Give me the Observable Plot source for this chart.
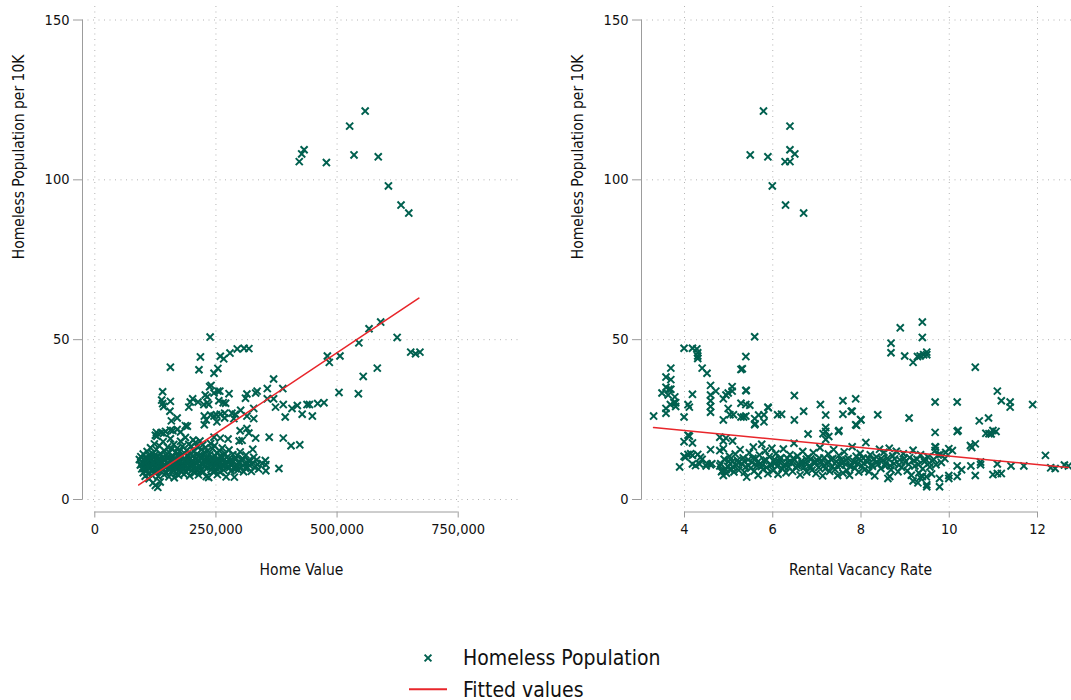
<!DOCTYPE html>
<html><head><meta charset="utf-8">
<script src="https://cdn.jsdelivr.net/npm/d3@7"></script>
<script src="https://cdn.jsdelivr.net/npm/@observablehq/plot@0.6"></script>
<style>
html,body{margin:0;padding:0;background:#fff;overflow:hidden;}
#wrap{position:relative;width:1071px;height:700px;overflow:hidden;background:#fff;}
#left{position:absolute;left:0;top:0;width:540px;}
#right{position:absolute;left:540px;top:0;width:540px;}
#left svg,#right svg{max-width:none !important;}
#legend{position:absolute;left:0;top:600px;}
</style></head><body><div id="wrap"><div id="left"></div><div id="right"></div><div id="legend"></div></div>
<script>
// ---------- data ----------
const yTitle = "Homeless Population per 10K";
const yTicks = [0, 50, 100, 150];
const yTickLabels = ["0", "50", "100", "150"];

// Left panel: home value (thousands of $), homeless per 10K
const homeValueTicks = [0, 250, 500, 750];
const homeValueTickLabels = ["0", "250,000", "500,000", "750,000"];
const homeValueTitle = "Home Value";
const homeValueOutliers = [[422,105.7],[427,108.1],[432,109.4],[478,105.4],[526,116.8],[535,107.8],[558,121.5],[585,107.2],[606,98.1],[632,92.1],[648,89.6]];
const homeValueMid = [[238,50.8],[218,44.6],[156,41.4],[215,40.6],[246,39.5],[254,41.0],[259,44.8],[266,44.0],[279,45.8],[294,47.1],[308,47.3],[318,47.2],
[590,55.5],[566,53.4],[624,50.7],[545,49.0],[480,44.9],[484,42.9],[506,44.9],[652,46.1],[662,45.6],[671,46.1],[583,41.1],[554,38.5],[504,33.5],[544,33.1],[473,30.3],
[369,37.7],[388,34.7],[356,34.7],[332,33.3],[314,33.0],[311,31.7],[356,31.5],[369,31.5],
[373,28.9],[389,29.7],[407,28.5],[418,29.4],[438,29.7],[443,29.7],[460,30.0],[393,25.8],[428,26.7],[449,26.1],
[328,28.5],[314,26.1],[328,25.3],[301,27.9],[290,26.7],[287,25.3],[314,22.2],[332,19.2],[360,19.5],[389,19.2],[405,16.8],[423,17.1],[326,15.7],[380,9.7],[353,10.9],[353,9.0],[298,18.3],[275,18.9],[259,19.2],[246,19.5],
[140,33.7],[138,31.1],[156,30.7],[142,29.1],[140,30.0],[155,27.6],[158,24.6],[170,25.5],[161,21.6],[177,21.1],[191,22.9],[194,28.9],[197,30.5],[202,31.5],[213,30.5],[225,29.7],[232,30.3],[235,29.7],[237,35.3],[240,35.7],[246,33.3],[254,33.9],[258,33.9],[228,32.7],[232,32.1],[256,30.9],[265,30.3],[270,30.1],[277,33.1],[226,26.1],[230,24.9],[239,26.4],[246,26.1],[251,26.5],[259,26.7],[268,27.0],[268,25.5],[283,27.0],[226,23.4],[252,24.3],[127,21.0],[125,20.1],[142,20.7],[156,21.7],[170,21.9],[187,23.1],[300,21.5],[318,20.8],[304,18.5],[335,33.9]];
const homeValueDense = [[92,12.5],[94,10.8],[95,13.4],[97,9.6],[98,11.7],[100,8.4],[100,14.2],[102,12.1],[103,10.2],[104,7.3],
[105,13.0],[106,11.2],[107,9.1],[108,15.0],[109,12.4],[110,8.0],[110,10.6],[111,13.8],[112,6.5],[113,11.5],
[114,9.8],[115,16.2],[116,12.9],[117,10.9],[118,7.6],[119,14.4],[120,11.8],[120,5.2],[121,9.4],[122,13.2],
[123,17.4],[124,10.3],[125,12.6],[125,4.4],[126,8.6],[127,15.6],[128,11.0],[128,19.8],[129,13.6],[130,9.9],
[130,3.8],[131,7.2],[132,12.2],[133,16.8],[134,10.5],[135,14.3],[135,5.5],[136,8.9],[137,20.9],[138,11.7],
[139,13.0],[140,9.3],[141,18.1],[142,12.5],[143,7.8],[144,15.2],[145,10.7],[146,21.3],[147,13.9],[148,8.4],
[149,11.4],[150,16.4],[151,9.6],[152,12.8],[153,7.1],[154,14.7],[155,10.2],[156,19.0],[157,12.0],[158,8.8],
[159,15.8],[160,11.1],[161,13.4],[162,9.0],[163,17.2],[164,6.8],[165,12.6],[166,10.4],[167,14.9],[168,8.2],
[169,11.9],[170,16.0],[171,9.7],[172,13.3],[173,7.6],[174,12.1],[175,15.1],[176,10.0],[177,18.2],[178,8.9],
[179,13.7],[180,11.3],[181,16.6],[182,9.4],[183,12.7],[184,7.9],[185,14.5],[186,10.8],[187,19.4],[188,12.3],
[189,8.6],[190,15.4],[191,11.0],[192,13.9],[193,9.8],[194,17.3],[195,12.4],[196,7.4],[197,14.2],[198,10.5],
[199,16.7],[200,11.8],[201,9.2],[202,13.5],[203,18.6],[204,10.9],[205,15.0],[206,8.3],[207,12.6],[208,17.8],
[209,11.5],[210,14.1],[211,9.5],[212,16.4],[213,12.2],[214,7.7],[215,13.8],[216,10.7],[217,18.3],[218,12.9],
[219,9.1],[220,15.6],[221,11.4],[222,13.5],[223,17.1],[224,8.6],[225,12.0],[226,14.8],[227,10.2],[228,16.2],
[229,11.7],[230,7.2],[231,13.1],[232,9.9],[233,15.3],[234,12.4],[235,6.9],[236,10.8],[237,14.0],[238,12.0],
[239,17.5],[240,9.4],[241,13.0],[242,11.2],[243,15.9],[244,8.7],[245,12.5],[246,10.1],[247,16.8],[248,13.6],
[249,9.0],[250,11.9],[252,14.6],[253,7.8],[254,12.8],[256,10.4],[257,15.2],[258,11.6],[259,8.5],[260,13.7],
[262,10.9],[263,16.1],[265,12.3],[266,9.2],[268,14.4],[270,11.0],[271,7.1],[273,13.2],[275,10.3],[277,15.5],
[279,12.1],[281,8.9],[283,11.4],[285,14.0],[287,9.8],[288,7.0],[290,12.6],[292,10.7],[294,13.8],[296,9.3],
[298,11.9],[300,14.9],[302,10.1],[305,12.8],[307,8.7],[310,11.3],[312,13.9],[315,9.9],[318,12.2],[320,10.6],[323,8.8],[326,11.5],[330,10.0],[334,12.4],[338,9.5],
[96,11.0],[101,9.7],[104,12.9],[107,11.8],[111,10.3],[114,12.7],[117,8.8],[121,11.3],[124,13.9],[127,9.5],[131,11.6],[134,12.8],[137,9.8],[141,10.6],[144,12.1],[147,10.1],[150,13.3],[153,11.0],[157,9.9],[160,12.4],
[163,10.6],[166,12.9],[170,10.5],[173,11.7],[176,13.2],[180,9.6],[183,10.9],[186,12.2],[190,9.9],[193,11.6],[196,12.9],[200,10.3],[203,12.0],[207,9.6],[210,11.1],[214,12.4],[217,10.1],[221,12.9],[224,10.9],[228,12.3],
[232,11.2],[236,12.7],[240,10.9],[244,11.9],[248,10.6],[253,12.1],[257,9.8],[262,12.9],[267,10.6],[272,11.9],[278,10.0],[284,12.3],[291,9.6],[297,11.4],[304,12.1],[311,9.8],[319,11.7],[328,13.2],[336,11.0],[345,11.3],[352,12.2]];
const homeValueFit = [[90.8,4.55],[668.8,63.0]];

// Right panel: rental vacancy rate (%), homeless per 10K
const vacancyTicks = [4, 6, 8, 10, 12];
const vacancyTickLabels = ["4", "6", "8", "10", "12"];
const vacancyTitle = "Rental Vacancy Rate";
const vacancyOutliers = [[5.79,121.5],[6.39,116.8],[5.49,107.8],[5.89,107.2],[6.39,109.4],[6.50,108.1],[6.28,105.7],[6.39,105.7],[5.99,98.1],[6.29,92.1],[6.70,89.6]];
const vacancyMid = [[3.30,26.1],[3.49,33.3],[3.58,35.1],[3.65,34.5],[3.69,34.5],[3.63,32.7],[3.58,28.5],[3.58,27.0],[3.58,38.3],[3.69,41.1],[3.69,37.5],
[3.68,29.7],[3.76,30.3],[3.80,29.1],[3.80,30.3],[3.78,32.1],[3.99,47.3],[3.99,25.8],[4.08,29.7],[4.11,28.9],[4.18,32.9],
[4.18,47.3],[4.28,47.1],[4.30,45.9],[4.30,44.9],[4.30,44.1],[4.40,41.1],[4.51,39.5],
[4.59,35.7],[4.59,32.7],[4.59,30.9],[4.59,29.1],[4.59,27.3],[4.71,33.9],
[4.88,31.5],[4.94,32.7],[4.99,33.3],[5.08,35.3],[5.08,33.9],[4.88,24.9],[4.99,28.5],[5.03,26.5],[5.11,26.5],
[5.28,40.7],[5.39,44.7],[5.39,34.1],[5.28,30.1],[5.39,29.7],[5.48,29.5],[5.28,25.8],[5.34,25.8],[5.39,26.1],
[5.59,50.9],[5.59,25.3],[5.59,23.4],[5.68,26.4],[5.80,26.5],[5.89,28.9],[5.80,24.3],[6.11,26.5],[6.20,26.7],
[6.49,32.5],[6.49,24.9],[6.70,27.6],[6.80,20.5],[7.08,29.7],[7.20,26.4],[7.20,22.5],[7.20,21.3],[7.49,21.3],
[7.59,30.9],[7.59,26.7],[7.78,27.6],[7.88,31.5],[7.88,23.4],[8.00,24.9],[8.38,26.5],
[8.68,48.9],[8.68,45.9],[8.89,53.7],[8.99,44.9],[9.18,42.9],[9.28,44.7],[9.34,44.9],[9.42,45.3],[9.49,45.3],[9.49,46.1],[9.39,50.7],[9.39,55.5],
[9.09,25.5],[9.68,30.5],[9.68,21.0],[10.18,30.5],[10.18,21.3],[10.59,41.4],[10.68,24.6],[10.89,25.5],[11.09,33.9],[11.18,30.9],[11.38,30.5],[11.38,28.9],[11.89,29.7],
[10.83,20.7],[10.95,20.5],[11.06,21.3],[10.48,16.9],[10.59,17.4],[10.51,16.3],[12.18,13.8],[12.30,9.9],[12.40,9.7],[12.61,10.8],[12.70,10.5],
[11.69,10.5],[11.40,10.5],[11.09,11.1],[10.99,7.8],[11.09,8.1],[11.18,8.1],[10.71,11.7],[10.71,10.9],[10.59,7.5],[10.49,10.5],
[10.18,10.5],[10.28,9.3],[10.18,7.2],[9.99,7.5],[9.99,6.6],[9.78,6.6],[9.78,4.0],[9.49,4.0],[9.49,4.6],[9.39,7.2],[9.34,6.9],[9.18,5.8],[9.29,5.2],[8.61,6.6],[8.65,7.2],
[9.99,15.9],[10.07,15.3],[9.92,14.7],[9.80,14.1],[9.68,16.5],[9.68,15.3],[9.69,16.4],
[3.99,18.1],[4.08,20.1],[4.18,17.7],[3.99,13.5],[4.08,14.1],[4.18,13.8],[4.30,14.1],[4.18,11.1],[4.34,11.1],[4.40,12.6],[4.49,10.5],[4.59,10.9],[4.59,15.6],[3.89,10.2],[4.11,19.8],
[4.14,14.3],[4.25,10.6],[4.51,11.2],[4.62,11.2],[4.02,13.2],[4.36,13.2],
[4.80,19.5],[4.88,18.3],[4.80,15.3],[4.88,15.9],[4.94,19.2],[5.09,18.3],[4.80,10.5],[4.84,8.7],[4.88,7.5],[4.94,9.3],[5.03,9.3],
[5.31,40.9],[5.40,34.1],[5.60,23.7],[5.90,28.7],[7.14,20.6],[7.27,19.7],[7.50,21.6],[7.80,27.6],[7.90,23.2],[7.99,25.0],[10.20,21.6],[10.90,20.6],[10.99,21.6]];
const vacancyDense = [[4.82,11.2],[4.86,9.0],[4.90,12.6],[4.95,8.2],[4.98,10.4],[5.02,13.5],[5.05,9.6],[5.08,11.8],[5.12,8.6],[5.15,14.2],[5.18,10.8],[5.20,12.3],
[5.23,9.2],[5.26,15.6],[5.30,11.1],[5.33,13.0],[5.36,8.5],[5.39,10.2],[5.41,7.0],[5.44,12.4],[5.47,14.6],[5.50,9.8],[5.53,11.6],[5.56,16.4],[5.58,8.9],
[5.61,12.8],[5.64,10.6],[5.67,7.6],[5.70,13.9],[5.72,11.3],[5.75,17.3],[5.78,9.4],[5.80,12.1],[5.83,15.2],[5.86,10.0],[5.89,8.1],[5.92,13.4],[5.95,11.0],[5.98,16.0],
[6.01,9.1],[6.04,12.5],[6.07,14.3],[6.10,10.4],[6.12,7.9],[6.15,11.8],[6.18,13.1],[6.21,9.7],[6.24,15.8],[6.27,11.0],[6.30,8.4],[6.33,12.9],[6.36,10.2],[6.39,14.0],
[6.42,11.6],[6.45,8.8],[6.48,17.6],[6.50,12.4],[6.53,9.9],[6.56,13.6],[6.59,10.9],[6.62,7.7],[6.65,12.0],[6.68,15.0],[6.71,10.1],[6.74,11.4],[6.77,8.6],[6.80,13.2],
[6.83,10.6],[6.86,12.7],[6.89,9.2],[6.92,14.6],[6.95,11.3],[6.98,8.1],[7.01,12.2],[7.04,10.0],[7.07,16.2],[7.10,11.8],[7.13,7.4],[7.16,13.0],[7.19,9.6],[7.20,18.8],
[7.23,11.1],[7.26,14.2],[7.29,8.8],[7.32,12.5],[7.35,10.3],[7.38,15.6],[7.41,9.4],[7.44,11.9],[7.47,7.5],[7.50,13.8],[7.53,10.7],[7.56,12.3],[7.59,8.3],
[7.62,14.9],[7.65,11.0],[7.68,9.1],[7.71,12.8],[7.74,7.6],[7.77,10.5],[7.80,16.5],[7.83,12.0],[7.86,9.8],[7.89,13.5],[7.92,11.2],[7.95,8.6],[7.98,14.4],
[8.02,10.6],[8.05,12.9],[8.08,9.3],[8.11,17.8],[8.14,11.7],[8.18,8.7],[8.21,14.0],[8.24,10.9],[8.28,12.5],[8.31,7.4],[8.35,13.3],[8.38,11.0],[8.42,15.7],[8.45,9.7],[8.49,12.2],
[8.52,14.8],[8.55,10.5],[8.60,12.9],[8.64,16.0],[8.68,9.3],[8.72,13.6],[8.75,11.2],[8.80,15.1],[8.84,8.7],[8.88,12.4],[8.92,10.1],[8.96,14.3],
[9.00,11.7],[9.05,9.0],[9.10,13.1],[9.14,7.6],[9.18,15.4],[9.22,10.5],[9.27,12.6],[9.31,8.3],[9.35,14.0],[9.40,9.6],[9.44,11.8],[9.48,7.1],[9.52,13.3],[9.56,10.2],[9.60,8.0],
[9.65,12.5],[9.70,10.9],[9.75,13.9],[9.82,11.6],[9.90,12.8],
[5.00,11.9],[5.10,10.1],[5.22,11.5],[5.35,12.0],[5.45,10.6],[5.55,12.9],[5.65,11.6],[5.74,10.3],[5.85,12.3],[5.96,10.7],[6.06,11.4],[6.16,12.6],[6.26,10.2],[6.35,11.6],[6.46,12.8],
[6.55,10.6],[6.66,11.2],[6.76,12.6],[6.86,10.2],[6.96,11.9],[7.06,12.9],[7.16,10.6],[7.26,11.8],[7.36,12.8],[7.46,10.5],[7.56,11.4],[7.66,12.4],[7.76,10.2],[7.86,11.6],[7.96,12.7],
[8.06,11.4],[8.16,12.9],[8.26,10.4],[8.36,11.8],[8.46,12.8],[8.56,11.4],[8.66,10.6],[8.76,12.7],[8.86,10.8],[8.98,12.9],[9.08,11.0],[9.20,12.2],[9.30,10.9],[9.42,12.4],[9.55,11.4]];
const vacancyFit = [[3.30,22.5],[12.70,10.0]];

// ---------- style ----------
const FONT = "'DejaVu Sans Condensed','DejaVu Sans',sans-serif";
const DOT = "#00604f";
const RED = "#e8262b";
const AXIS = "#9c9c9c";
const GRID = "#b4b4b4";

function panel({points, fit, xDomain, xTicks, xTickLabels, insetLeft, insetRight, marginLeft, marginRight, xTitle}) {
  const xfmt = d => xTickLabels[xTicks.indexOf(d)];
  const yfmt = d => yTickLabels[yTicks.indexOf(d)];
  return Plot.plot({
    width: 540, height: 600,
    marginLeft, marginRight, marginTop: 6, marginBottom: 88.5,
    x: {domain: xDomain, insetLeft, insetRight},
    y: {domain: [0, 150], insetTop: 13.5, insetBottom: 12.5},
    style: {fontFamily: FONT, fontSize: "14.5px", color: "#111", background: "transparent", overflow: "visible", maxWidth: "none"},
    marks: [
      Plot.gridX(xTicks, {stroke: GRID, strokeOpacity: 1, strokeDasharray: "1,4.5"}),
      Plot.gridY(yTicks, {stroke: GRID, strokeOpacity: 1, strokeDasharray: "1,4.5"}),
      Plot.ruleX([xDomain[0]], {y1: 0, y2: 150, dx: -insetLeft, stroke: AXIS}),
      Plot.ruleY([0], {x1: xDomain[0], x2: xDomain[1], dy: 12.5, stroke: AXIS}),
      Plot.axisX(xTicks, {tickFormat: xfmt, tickSize: 6, tickPadding: 6, stroke: AXIS, fill: "#111", label: null}),
      Plot.axisY(yTicks, {tickFormat: yfmt, tickSize: 9, tickPadding: 4, stroke: AXIS, fill: "#111", label: null}),
      Plot.dot(points, {x: d => d[0], y: d => d[1], symbol: "times", r: 3.3, stroke: DOT, strokeWidth: 2}),
      Plot.line(fit, {x: d => d[0], y: d => d[1], stroke: RED, strokeWidth: 1.6}),
      Plot.text([xTitle], {text: d => d, frameAnchor: "bottom", dy: 63, fontSize: 15.5, fill: "#111"}),
      Plot.text([yTitle], {text: d => d, frameAnchor: "left", dx: -63, rotate: -90, fontSize: 15.5, fill: "#111"})
    ]
  });
}

document.getElementById("left").append(panel({
  points: [...homeValueDense, ...homeValueMid, ...homeValueOutliers],
  fit: homeValueFit, xDomain: [0, 750], xTicks: homeValueTicks, xTickLabels: homeValueTickLabels,
  marginLeft: 82, marginRight: 20, insetLeft: 12.3, insetRight: 62.3, xTitle: homeValueTitle
}));
document.getElementById("right").append(panel({
  points: [...vacancyDense, ...vacancyMid, ...vacancyOutliers],
  fit: vacancyFit, xDomain: [4, 12], xTicks: vacancyTicks, xTickLabels: vacancyTickLabels,
  marginLeft: 101, marginRight: 1, insetLeft: 43, insetRight: 42, xTitle: vacancyTitle
}));

// ---------- legend ----------
const legendItems = ["Homeless Population", "Fitted values"];
const lg = d3.select("#legend").append("svg").attr("width", 1071).attr("height", 100)
  .style("font-family", FONT).style("font-size", "21px");
lg.append("path").attr("d", d3.symbol(d3.symbolTimes, 32)())
  .attr("transform", "translate(428,58)").attr("fill", "none").attr("stroke", DOT).attr("stroke-width", 2);
lg.append("line").attr("x1", 409).attr("x2", 447).attr("y1", 89.3).attr("y2", 89.3).attr("stroke", RED).attr("stroke-width", 2);
lg.append("text").attr("x", 463).attr("y", 65).attr("fill", "#111").text(legendItems[0]);
lg.append("text").attr("x", 463).attr("y", 96.5).attr("fill", "#111").text(legendItems[1]);
</script></body></html>
